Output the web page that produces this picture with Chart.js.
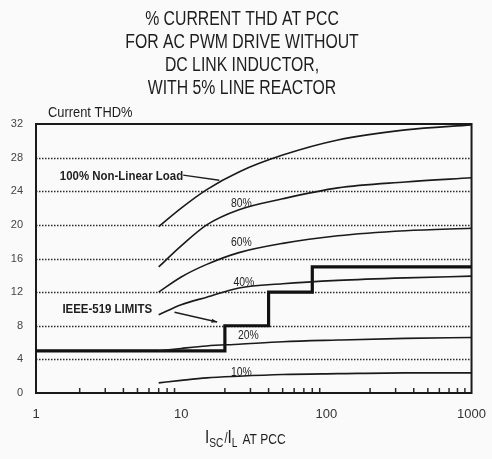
<!DOCTYPE html>
<html>
<head>
<meta charset="utf-8">
<script src="https://cdn.jsdelivr.net/npm/chart.js@4/dist/chart.umd.min.js"></script>
<style>
  body { margin: 0; background: #fafafa; }
  canvas { display: block; }
</style>
</head>
<body>
<canvas id="thdChart" width="492" height="459"></canvas>
<script>
// short circuit ratio (Isc/IL) where each curve was read
const ratio = [7, 10, 15, 25, 50, 120, 350, 1000];
const load100 = [19.8, 22.0, 24.2, 26.3, 28.3, 30.1, 31.3, 31.9];
const load80 = [15.0, 17.5, 20.0, 21.8, 23.1, 24.4, 25.1, 25.6];
const load60 = [12.0, 13.8, 15.3, 16.7, 17.8, 18.7, 19.3, 19.6];
const load40 = [9.3, 10.5, 11.4, 12.5, 13.0, 13.4, 13.7, 13.9];
const load20 = [5.0, 5.3, 5.6, 5.8, 6.1, 6.3, 6.5, 6.6];
const load10 = [1.2, 1.5, 1.8, 2.0, 2.2, 2.3, 2.4, 2.4];

// IEEE-519 limit steps
const ieeeRatio = [1, 20, 40, 80, 1000];
const ieeeLimit = [5, 8, 12, 15, 15];

const thdTicks = [0, 4, 8, 12, 16, 20, 24, 28, 32];
const gridValues = [4, 8, 12, 16, 20, 24, 28];
const xTickLabels = [1, 10, 100, 1000];
const minorTicks = [2, 3, 4, 5, 6, 7, 8, 9, 20, 30, 40, 50, 60, 70, 80, 90, 200, 300, 400, 500, 600, 700, 800, 900];

const titleLines = ['% CURRENT THD AT PCC', 'FOR AC PWM DRIVE WITHOUT', 'DC LINK INDUCTOR,', 'WITH 5% LINE REACTOR'];

// curve labels: text, ratio, thd
const curveLabels = [
  ['80%', 26, 22.6],
  ['60%', 26, 17.9],
  ['40%', 27, 13.2],
  ['20%', 29, 6.8],
  ['10%', 26, 2.5]
];

function pts(xs, ys) {
  return xs.map((x, i) => ({ x: x, y: ys[i] }));
}

function curve(values) {
  return {
    data: pts(ratio, values),
    borderColor: '#1a1a1a',
    borderWidth: 1.6,
    pointRadius: 0,
    fill: false,
    cubicInterpolationMode: 'monotone'
  };
}

// draws squeezed text (the original uses a condensed face)
function narrowText(ctx, text, x, y, font, sx, align) {
  ctx.save();
  ctx.font = font;
  ctx.textBaseline = 'middle';
  const w = ctx.measureText(text).width * sx;
  let x0 = x;
  if (align === 'center') x0 = x - w / 2;
  else if (align === 'right') x0 = x - w;
  ctx.translate(x0, y);
  ctx.scale(sx, 1);
  ctx.textAlign = 'left';
  ctx.fillText(text, 0, 0);
  ctx.restore();
  return w;
}

const decor = {
  id: 'decor',
  beforeDatasetsDraw(chart) {
    const ctx = chart.ctx;
    const a = chart.chartArea;
    const ys = chart.scales.y;
    const xs = chart.scales.x;
    ctx.save();
    ctx.strokeStyle = '#2a2a2a';
    ctx.lineWidth = 1.4;
    ctx.setLineDash([1.5, 1.5]);
    gridValues.forEach(v => {
      const y = Math.round(ys.getPixelForValue(v)) + 0.5;
      ctx.beginPath();
      ctx.moveTo(a.left, y);
      ctx.lineTo(a.right, y);
      ctx.stroke();
    });
    ctx.setLineDash([]);
    ctx.lineWidth = 1.5;
    minorTicks.forEach(v => {
      const x = xs.getPixelForValue(v);
      ctx.beginPath();
      ctx.moveTo(x, a.bottom);
      ctx.lineTo(x, a.bottom - 5);
      ctx.stroke();
    });
    ctx.lineWidth = 2;
    ctx.strokeStyle = '#1a1a1a';
    ctx.strokeRect(a.left, a.top, a.right - a.left, a.bottom - a.top);
    ctx.restore();
  },
  afterDraw(chart) {
    const ctx = chart.ctx;
    const xs = chart.scales.x;
    const ys = chart.scales.y;
    ctx.save();
    ctx.fillStyle = '#1e1e1e';

    // title
    titleLines.forEach((t, i) => {
      narrowText(ctx, t, 242, 19 + i * 23, '20px "Liberation Sans"', 0.79, 'center');
    });

    narrowText(ctx, 'Current THD%', 48, 113, '14px "Liberation Sans"', 0.92, 'left');

    // curve labels
    curveLabels.forEach(l => {
      narrowText(ctx, l[0], xs.getPixelForValue(l[1]), ys.getPixelForValue(l[2]), '13px "Liberation Sans"', 0.8, 'center');
    });

    // 100% label and leader
    const nlx = xs.getPixelForValue(1.46);
    const nly = ys.getPixelForValue(25.8);
    const w = narrowText(ctx, '100% Non-Linear Load', nlx, nly, 'bold 13px "Liberation Sans"', 0.88, 'left');
    ctx.strokeStyle = '#1e1e1e';
    ctx.lineWidth = 1.5;
    ctx.beginPath();
    ctx.moveTo(nlx + w, nly - 1);
    ctx.lineTo(xs.getPixelForValue(18.3), ys.getPixelForValue(25.3));
    ctx.stroke();

    // IEEE label and arrow
    const ix = xs.getPixelForValue(6.3);
    const iy = ys.getPixelForValue(9.9);
    narrowText(ctx, 'IEEE-519 LIMITS', ix, iy, 'bold 13px "Liberation Sans"', 0.88, 'right');
    const ax0 = xs.getPixelForValue(9), ay0 = ys.getPixelForValue(9.6);
    const ax1 = xs.getPixelForValue(17.7), ay1 = ys.getPixelForValue(8.45);
    ctx.beginPath();
    ctx.moveTo(ax0, ay0);
    ctx.lineTo(ax1, ay1);
    ctx.stroke();
    const ang = Math.atan2(ay1 - ay0, ax1 - ax0);
    ctx.beginPath();
    ctx.moveTo(ax1, ay1);
    ctx.lineTo(ax1 - 6 * Math.cos(ang - 0.35), ay1 - 6 * Math.sin(ang - 0.35));
    ctx.lineTo(ax1 - 6 * Math.cos(ang + 0.35), ay1 - 6 * Math.sin(ang + 0.35));
    ctx.closePath();
    ctx.fill();

    // x axis title: Isc/IL AT PCC
    let x = 205;
    const yb = 440;
    x += narrowText(ctx, 'I', x, yb - 2, '18px "Liberation Sans"', 0.85, 'left');
    x += narrowText(ctx, 'SC', x, yb + 4, '12px "Liberation Sans"', 0.85, 'left') + 1;
    x += narrowText(ctx, '/', x, yb - 1, '14px "Liberation Sans"', 0.8, 'left');
    x += narrowText(ctx, 'I', x, yb - 2, '18px "Liberation Sans"', 0.85, 'left');
    x += narrowText(ctx, 'L', x, yb + 4, '12px "Liberation Sans"', 0.85, 'left') + 5;
    narrowText(ctx, 'AT PCC', x, yb, '14px "Liberation Sans"', 0.86, 'left');
    ctx.restore();
  }
};

const ctx = document.getElementById('thdChart').getContext('2d');
const chart = new Chart(ctx, {
  type: 'line',
  data: {
    datasets: [
      curve(load100),
      curve(load80),
      curve(load60),
      curve(load40),
      curve(load20),
      curve(load10),
      {
        data: pts(ieeeRatio, ieeeLimit),
        borderColor: '#111',
        borderWidth: 3.2,
        pointRadius: 0,
        fill: false,
        stepped: 'before'
      }
    ]
  },
  options: {
    responsive: false,
    animation: false,
    layout: { padding: { top: 124, right: 19, left: 0, bottom: 0 } },
    plugins: { legend: { display: false }, tooltip: { enabled: false } },
    scales: {
      x: {
        type: 'logarithmic',
        min: 1,
        max: 1000,
        grid: { display: false },
        border: { display: false },
        afterFit(s) { s.height = 66; },
        ticks: {
          autoSkip: false,
          maxRotation: 0,
          padding: 6,
          color: '#333',
          font: { family: 'Liberation Sans', size: 13 },
          callback(v) { return xTickLabels.includes(v) ? String(v) : ''; }
        }
      },
      y: {
        min: 0,
        max: 32,
        grid: { display: false },
        border: { display: false },
        afterBuildTicks(s) { s.ticks = thdTicks.map(v => ({ value: v })); },
        afterFit(s) { s.width = 36; },
        ticks: {
          padding: 5,
          color: '#444',
          font: { family: 'Liberation Sans', size: 11 }
        }
      }
    }
  },
  plugins: [decor]
});
</script>
</body>
</html>
